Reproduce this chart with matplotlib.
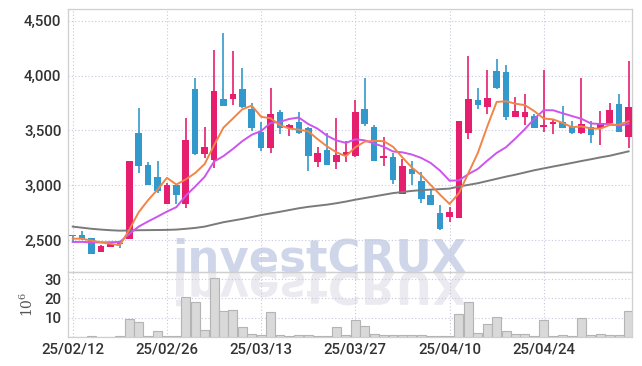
import matplotlib
matplotlib.use("Agg")
import matplotlib.pyplot as plt
import matplotlib.transforms as mtransforms
from matplotlib.textpath import TextPath
from matplotlib.patches import PathPatch
from matplotlib.font_manager import FontProperties

plt.rcParams['font.family'] = ['Roboto', 'DejaVu Sans']

# dados (um candle por pregão)
tick_pos = [0, 10, 20, 30, 40, 50]
tick_labels = ['25/02/12', '25/02/26', '25/03/13', '25/03/27', '25/04/10', '25/04/24']

opens = [2548, 2545, 2520, 2397, 2440, 2480, 2515, 3480, 3185, 3078,
         2835, 3000, 2835, 3880, 3290, 3235, 3790, 3785, 3880, 3700,
         3490, 3345, 3670, 3520, 3580, 3525, 3210, 3325, 3217, 3275,
         3265, 3700, 3535, 3245, 3255, 2920, 3150, 3040, 2915, 2750,
         2715, 2705, 3475, 3780, 3710, 4045, 4035, 3620, 3620, 3630,
         3535, 3560, 3580, 3545, 3475, 3535, 3520, 3565, 3745, 3445]
highs = [2550, 2582, 2522, 2455, 2470, 2485, 3222, 3705, 3210, 3220,
         3025, 3000, 3610, 3975, 3530, 4235, 4390, 4220, 4070, 3750,
         3580, 3885, 3690, 3560, 3665, 3530, 3350, 3475, 3610, 3400,
         3780, 3975, 3550, 3440, 3295, 3240, 3225, 3125, 2970, 2820,
         2805, 3590, 4180, 3885, 4050, 4150, 4095, 3805, 3830, 3650,
         4050, 3600, 3720, 3590, 3975, 3590, 3675, 3750, 3830, 4130]
lows = [2490, 2505, 2380, 2390, 2435, 2432, 2510, 3110, 3000, 2935,
        2830, 2835, 2790, 3275, 3245, 3155, 3720, 3735, 3705, 3495,
        3310, 3295, 3470, 3450, 3470, 3130, 3170, 3190, 3150, 3210,
        3260, 3540, 3225, 3180, 3015, 2920, 3000, 2840, 2820, 2590,
        2665, 2705, 3420, 3695, 3650, 3880, 3595, 3620, 3550, 3525,
        3485, 3465, 3520, 3470, 3465, 3390, 3365, 3565, 3490, 3340]
closes = [2538, 2515, 2380, 2450, 2465, 2465, 3220, 3180, 3000, 2945,
          3000, 2915, 3415, 3290, 3350, 3855, 3720, 3830, 3710, 3520,
          3345, 3650, 3520, 3550, 3475, 3265, 3295, 3190, 3280, 3300,
          3670, 3555, 3225, 3265, 3045, 3180, 3100, 2875, 2820, 2600,
          2760, 3590, 3790, 3735, 3800, 3885, 3620, 3680, 3670, 3525,
          3552, 3580, 3520, 3475, 3560, 3460, 3565, 3690, 3490, 3715]

ma5 = [2515, 2515, 2497, 2482, 2469, 2455, 2596, 2756, 2866, 2962,
       3069, 3008, 3055, 3113, 3194, 3365, 3526, 3609, 3693, 3727,
       3625, 3611, 3549, 3517, 3508, 3492, 3421, 3355, 3301, 3266,
       3347, 3399, 3406, 3403, 3352, 3254, 3163, 3093, 3004, 2915,
       2831, 2929, 3112, 3295, 3535, 3760, 3766, 3744, 3731, 3676,
       3609, 3601, 3569, 3530, 3537, 3519, 3516, 3550, 3553, 3584]
ma10 = [2485, 2486, 2482, 2481, 2483, 2485, 2557, 2625, 2672, 2716,
        2762, 2802, 2906, 2990, 3078, 3217, 3267, 3332, 3403, 3461,
        3495, 3569, 3579, 3605, 3618, 3559, 3516, 3452, 3409, 3387,
        3420, 3410, 3381, 3352, 3309, 3301, 3281, 3250, 3204, 3134,
        3043, 3046, 3103, 3150, 3225, 3296, 3348, 3428, 3513, 3606,
        3685, 3684, 3657, 3631, 3607, 3564, 3559, 3560, 3542, 3561]
ma_long = [2625, 2615, 2605, 2598, 2592, 2588, 2590, 2592, 2593, 2594,
           2595, 2598, 2605, 2613, 2625, 2645, 2665, 2680, 2695, 2712,
           2730, 2745, 2760, 2776, 2792, 2805, 2815, 2825, 2838, 2853,
           2870, 2885, 2900, 2915, 2930, 2940, 2950, 2957, 2962, 2966,
           2971, 2990, 3005, 3020, 3040, 3060, 3080, 3098, 3118, 3138,
           3155, 3172, 3188, 3205, 3222, 3238, 3255, 3270, 3290, 3310]

# volume em milhões
volumes = [0.2, 0.2, 0.3, 0.2, 0.2, 0.3, 9.1, 7.6, 0.7, 2.9,
           0.3, 0.3, 20.5, 17.9, 3.4, 30.3, 13.3, 13.8, 5.0, 1.4,
           0.9, 12.8, 0.9, 0.4, 0.9, 0.9, 0.4, 0.5, 5.0, 0.9,
           8.6, 5.5, 1.6, 0.9, 0.9, 0.9, 0.9, 0.9, 0.4, 0.4,
           0.4, 11.9, 17.9, 2.1, 6.7, 10.2, 3.1, 1.6, 1.6, 0.4,
           8.6, 0.4, 0.9, 0.4, 9.7, 0.9, 1.4, 0.9, 0.9, 13.3]

UP = '#e61e6e'
DOWN = '#3399cc'
GRID = '#c5c8dc'
FRAME = '#cfcfcf'
TXT = '#333333'

W, H = 642, 366
fig = plt.figure(figsize=(W / 100, H / 100), dpi=100)
fig.patch.set_facecolor('white')

ax = fig.add_axes([68.3 / W, 1 - 272.3 / H, 564 / W, 263.3 / H])
axv = fig.add_axes([68.3 / W, 1 - 337 / H, 564 / W, 64.7 / H], sharex=ax)
for a in (ax, axv):
    a.set_facecolor('none')
    for s in a.spines.values():
        s.set_color(FRAME)
        s.set_linewidth(0.9)
    a.grid(True, color=GRID, linestyle=(0, (1, 2)), linewidth=0.8)
    a.set_axisbelow(True)
    a.tick_params(length=0, colors=TXT, labelsize=10.8)

# marca d'água (texto) com reflexo
fp = FontProperties(family='DejaVu Sans', weight='bold', style='normal')
tp = TextPath((0, 0), 'investCRUX', size=100, prop=fp)
bb = tp.get_extents()
esc = (466 - 176) / bb.width          # pixels por unidade do path
x0 = 176 - bb.x0 * esc
base = H - 272
fig.text(x0 / W, base / H, 'investCRUX', fontproperties=fp, fontsize=100 * esc * 0.72,
         color='#d0d6e9', ha='left', va='baseline', zorder=-1)
tr_ref = mtransforms.Affine2D().scale(esc, -esc).translate(x0, base).scale(1 / W, 1 / H)
fig.add_artist(PathPatch(tp, transform=tr_ref + fig.transFigure, facecolor='#eaeaf0',
                         edgecolor='none', zorder=-2))

# candles
x = list(range(len(closes)))
cores = [UP if c >= o else DOWN for o, c in zip(opens, closes)]
ax.vlines(x, lows, highs, colors=cores, linewidth=1.2, zorder=3)
bottoms = [min(o, c) for o, c in zip(opens, closes)]
alturas = [max(abs(c - o), 12) for o, c in zip(opens, closes)]
ax.bar(x, alturas, bottom=bottoms, width=0.7, color=cores, linewidth=0, zorder=4)

ax.plot(x, ma_long, color='#7a7a7a', linewidth=1.4, zorder=5)
ax.plot(x, ma10, color='#cc55ee', linewidth=1.4, zorder=5)
ax.plot(x, ma5, color='#f08548', linewidth=1.4, zorder=6)

ax.set_xlim(-0.47, 59.4)
ax.set_ylim(2209, 4606)
ax.set_yticks([2500, 3000, 3500, 4000, 4500])
ax.set_yticklabels(['2,500', '3,000', '3,500', '4,000', '4,500'], fontweight='medium')
ax.tick_params(axis='y', pad=5)
plt.setp(ax.get_xticklabels(), visible=False)

# volume
axv.bar(x, volumes, width=0.95, color='#d9d9d9', edgecolor='#b4b4b4', linewidth=0.8, zorder=3)
axv.set_ylim(0, 33.5)
axv.set_yticks([10, 20, 30])
axv.set_yticklabels(['10', '20', '30'], fontweight='medium')
axv.set_xticks(tick_pos)
axv.set_xticklabels(tick_labels, fontweight='medium')
axv.tick_params(axis='y', pad=5)
axv.tick_params(axis='x', pad=4)
axv.set_ylabel(r'$\mathregular{10^6}$', family='DejaVu Serif', fontsize=10, color='#555555', labelpad=6)

fig.savefig('out.png', dpi=100)
